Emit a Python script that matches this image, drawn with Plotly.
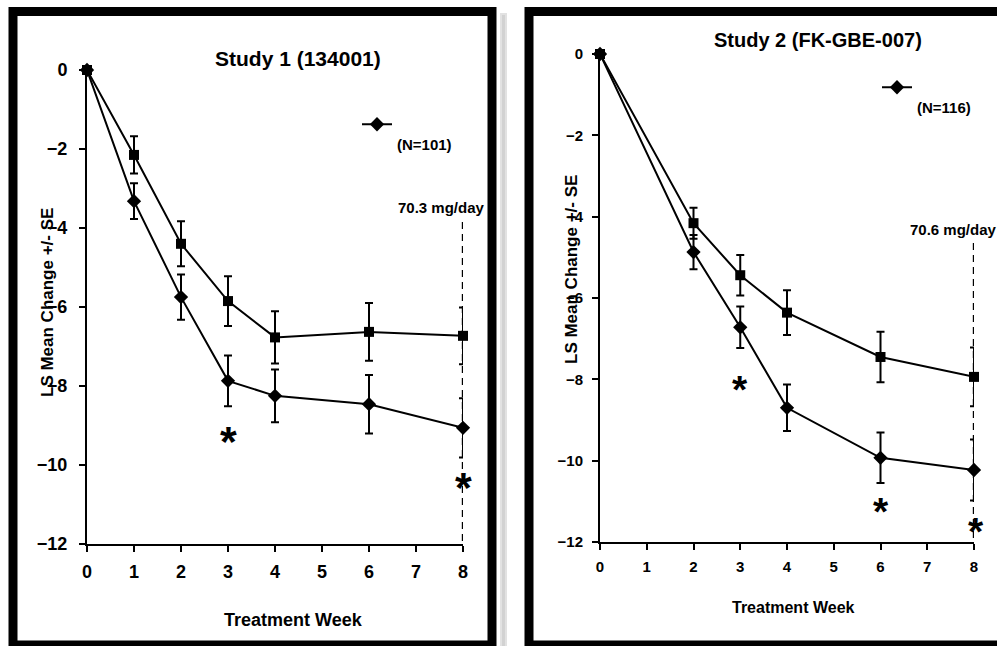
import plotly.graph_objects as go

W, H = 997, 646
FONT = "Liberation Sans, Arial, sans-serif"

# ---------------- data ----------------
weeks1 = [0, 1, 2, 3, 4, 6, 8]
s1_square = [0, -2.15, -4.40, -5.85, -6.77, -6.63, -6.73]
s1_square_se = [0, 0.47, 0.57, 0.63, 0.66, 0.73, 0.72]
s1_diamond = [0, -3.32, -5.75, -7.87, -8.25, -8.46, -9.06]
s1_diamond_se = [0, 0.45, 0.57, 0.64, 0.67, 0.74, 0.75]

weeks2 = [0, 2, 3, 4, 6, 8]
s2_square = [0, -4.16, -5.44, -6.36, -7.45, -7.94]
s2_square_se = [0, 0.38, 0.50, 0.55, 0.62, 0.72]
s2_diamond = [0, -4.87, -6.72, -8.70, -9.93, -10.23]
s2_diamond_se = [0, 0.42, 0.51, 0.57, 0.62, 0.75]

ast1_x = [3, 8]
ast1_y = [-9.19, -10.35]
ast2_x = [3, 6, 8]
ast2_y = [-8.09, -11.09, -11.56]

titles = ["Study 1 (134001)", "Study 2 (FK-GBE-007)"]
legend_names = ["(N=101)", "(N=116)"]
dose_labels = ["70.3 mg/day", "70.6 mg/day"]
dose_top = [-3.85, -4.65]
x_ticks = [0, 1, 2, 3, 4, 5, 6, 7, 8]
y_ticks = [0, -2, -4, -6, -8, -10, -12]
x_title = "Treatment Week"
y_title = "LS Mean Change +/- SE"


def px(x):
    return x / W


def py(y):
    return 1 - y / H


fig = go.Figure()


def add_series(xs, ys, se, symbol, size, xa, ya, legend=None, name=None):
    fig.add_trace(go.Scatter(
        x=xs, y=ys, mode="lines+markers",
        line=dict(color="black", width=2),
        marker=dict(symbol=symbol, size=size, color="black"),
        error_y=dict(type="data", array=se, visible=True, color="black",
                     thickness=2, width=4),
        xaxis=xa, yaxis=ya, cliponaxis=False,
        showlegend=legend is not None,
        legend=legend if legend else "legend",
        name=name or "",
    ))


add_series(weeks1, s1_square, s1_square_se, "square", 10, "x", "y")
add_series(weeks1, s1_diamond, s1_diamond_se, "diamond", 11, "x", "y",
           legend="legend", name="<br>" + legend_names[0])
add_series(weeks2, s2_square, s2_square_se, "square", 10, "x2", "y2")
add_series(weeks2, s2_diamond, s2_diamond_se, "diamond", 11, "x2", "y2",
           legend="legend2", name="<br>" + legend_names[1])


def xaxis(domain, size, anchor):
    return dict(domain=domain, range=[0, 8], tickvals=x_ticks,
                showline=True, linecolor="black", linewidth=2,
                ticks="outside", ticklen=6, tickwidth=2, tickcolor="black",
                showgrid=False, zeroline=False, anchor=anchor,
                ticklabelstandoff=4, automargin=False,
                tickfont=dict(family=FONT, size=size, color="black", weight="bold"))


def yaxis(domain, size, anchor, standoff):
    return dict(domain=domain, range=[-12, 0], tickvals=y_ticks,
                showline=True, linecolor="black", linewidth=2,
                ticks="outside", ticklen=6, tickwidth=2, tickcolor="black",
                showgrid=False, zeroline=False, anchor=anchor,
                ticklabelstandoff=standoff, automargin=False,
                tickfont=dict(family=FONT, size=size, color="black", weight="bold"))


shapes = []
# frames
shapes.append(dict(type="rect", xref="paper", yref="paper",
                   x0=px(13), x1=px(492), y0=py(645), y1=py(11.5),
                   line=dict(color="black", width=9), layer="above"))
shapes.append(dict(type="rect", xref="paper", yref="paper",
                   x0=px(500), x1=px(507), y0=py(646), y1=py(13),
                   line=dict(width=0), fillcolor="#e2e2e2", layer="below"))
shapes.append(dict(type="rect", xref="paper", yref="paper",
                   x0=px(502), x1=px(505), y0=py(646), y1=py(15),
                   line=dict(width=0), fillcolor="#d2d2d2", layer="below"))
shapes.append(dict(type="rect", xref="paper", yref="paper",
                   x0=px(529), x1=px(1004), y0=py(645), y1=py(11.5),
                   line=dict(color="black", width=9), layer="above"))
# dashed dose lines
for xr, yr, top in [("x", "y", dose_top[0]), ("x2", "y2", dose_top[1])]:
    shapes.append(dict(type="line", xref=xr, yref=yr, x0=8, x1=8, y0=top, y1=-12,
                       line=dict(color="black", width=2.4, dash="7px,5px")))

ann = []


def text(x, y, t, size, angle=0, xref="paper", yref="paper", yshift=0, xshift=0):
    ann.append(dict(x=x, y=y, xref=xref, yref=yref, text=t, showarrow=False,
                    textangle=angle, xanchor="center", yanchor="middle",
                    yshift=yshift, xshift=xshift,
                    font=dict(family=FONT, size=size, color="black", weight="bold")))


text(px(298), py(58), titles[0], 21)
text(px(818), py(40), titles[1], 20)
text(px(47), py(303), y_title, 17, angle=-90)
text(px(572), py(270), y_title, 17, angle=-90)
text(px(293), py(620), x_title, 18)
text(px(793), py(607), x_title, 16)
text(px(441), py(208), dose_labels[0], 15)
text(px(953), py(229), dose_labels[1], 15)
for x, y in zip(ast1_x, ast1_y):
    text(x, y, "*", 43, xref="x", yref="y", yshift=-8)
for i, (x, y) in enumerate(zip(ast2_x, ast2_y)):
    text(x, y, "*", 39, xref="x2", yref="y2", yshift=-7,
         xshift=2 if i == len(ast2_x) - 1 else 0)

leg_common = dict(xanchor="left", yanchor="top", valign="top",
                  bgcolor="rgba(0,0,0,0)", borderwidth=0, itemwidth=30,
                  font=dict(family=FONT, size=15, color="black", weight="bold"))

fig.update_layout(
    width=W, height=H, margin=dict(l=0, r=0, t=0, b=0, pad=0, autoexpand=False),
    paper_bgcolor="white", plot_bgcolor="rgba(0,0,0,0)",
    xaxis=xaxis([px(87), px(463)], 18, "y"),
    yaxis=yaxis([py(544), py(70)], 18, "x", 8),
    xaxis2=xaxis([px(600), px(974)], 15, "y2"),
    yaxis2=yaxis([py(542), py(54)], 15, "x2", 6),
    shapes=shapes, annotations=ann,
    legend=dict(x=px(357), y=py(108), tracegroupgap=0, **leg_common),
    legend2=dict(x=px(877), y=py(71), tracegroupgap=0, **leg_common),
)

fig.write_html("out.html")
